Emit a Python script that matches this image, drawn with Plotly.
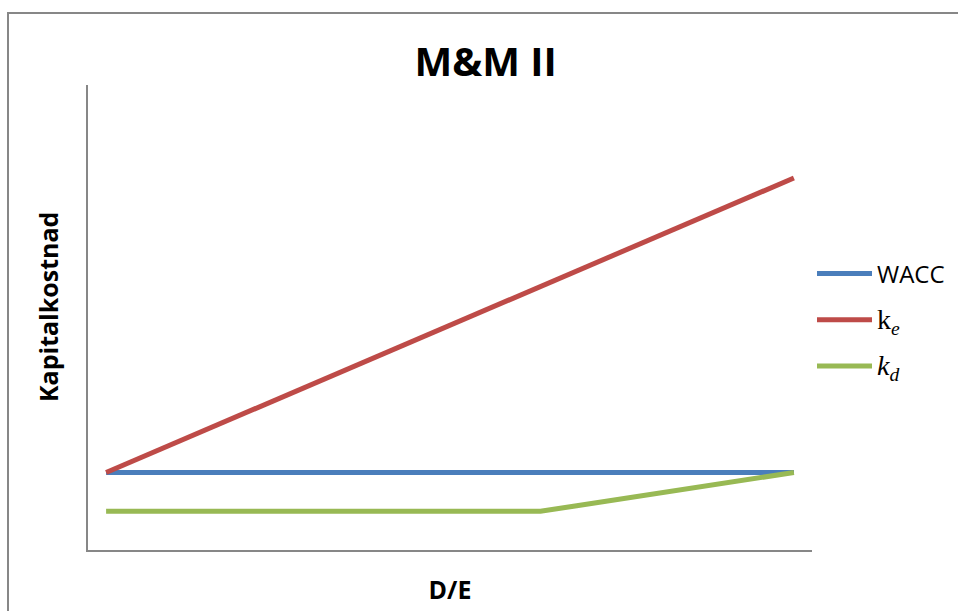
import plotly.graph_objects as go

# D/E steps along the horizontal axis (axis labels are hidden)
de_steps = list(range(20))

# Cost of capital series
wacc = [0.10] * 20
ke = [0.10, 0.12, 0.14, 0.16, 0.18, 0.20, 0.22, 0.24, 0.26, 0.28,
      0.30, 0.32, 0.34, 0.36, 0.38, 0.40, 0.42, 0.44, 0.46, 0.48]
kd = [0.05, 0.05, 0.05, 0.05, 0.05, 0.05, 0.05, 0.05, 0.05, 0.05,
      0.05, 0.05, 0.05, 0.057, 0.064, 0.071, 0.079, 0.086, 0.093, 0.10]

series_names = [
    "WACC",
    "<span style=\"font-family:Liberation Serif;font-size:28px\">k<sub><i>e</i></sub></span>",
    "<span style=\"font-family:Liberation Serif;font-size:28px\"><i>k</i><sub><i>d</i></sub></span>",
]
series_values = [wacc, ke, kd]
series_colors = ["#4A7EBB", "#BE4B48", "#98B954"]

fig = go.Figure()
for i, (name, vals, col) in enumerate(zip(series_names, series_values, series_colors)):
    fig.add_trace(go.Scatter(
        x=de_steps, y=vals, mode="lines", name=name,
        line=dict(color=col, width=5),
        legendgroup=f"g{i}",
    ))

axis_gray = "#878787"

# plot-area pixel box used to place the frame and labels
L, R, T, B = 88, 812, 85, 550
PW, PH = R - L, B - T


def px_x(x):
    return (x - L) / PW


def px_y(y):
    return (B - y) / PH


fig.update_layout(
    width=958, height=611,
    margin=dict(l=L, r=958 - R, t=T, b=611 - B, autoexpand=False),
    paper_bgcolor="white", plot_bgcolor="white",
    hovermode=False,
    font=dict(family="Open Sans", color="black"),
    title=dict(
        text="<b>M&M II</b>",
        font=dict(family="Open Sans", size=40, color="black"),
        x=0.507, xref="container", xanchor="center",
        y=0.899, yref="container", yanchor="middle",
    ),
    xaxis=dict(
        range=[-0.5, 19.5], showgrid=False, zeroline=False,
        showticklabels=False, ticks="",
        showline=True, linecolor=axis_gray, linewidth=2,
        title=dict(text="<b>D/E</b>", font=dict(size=25), standoff=30),
    ),
    yaxis=dict(
        range=[0, 0.6], showgrid=False, zeroline=False,
        showticklabels=False, ticks="",
        showline=True, linecolor=axis_gray, linewidth=2,
    ),
    legend=dict(
        x=px_x(812), xanchor="left", y=px_y(320), yanchor="middle",
        font=dict(family="Open Sans", size=24, color="black"),
        tracegroupgap=12, itemwidth=55,
        bgcolor="rgba(0,0,0,0)",
    ),
    annotations=[
        dict(text="<b>Kapitalkostnad</b>", textangle=-90,
             xref="paper", yref="paper", x=px_x(48), y=px_y(307),
             xanchor="center", yanchor="middle", showarrow=False,
             font=dict(family="Open Sans", size=25, color="black")),
    ],
    shapes=[
        # chart-area frame: left edge and top edge
        dict(type="line", xref="paper", yref="paper",
             x0=px_x(8), x1=px_x(8), y0=px_y(640), y1=px_y(12),
             line=dict(color=axis_gray, width=2)),
        dict(type="line", xref="paper", yref="paper",
             x0=px_x(7), x1=px_x(970), y0=px_y(13), y1=px_y(13),
             line=dict(color=axis_gray, width=2)),
    ],
)

fig.write_html("out.html", config={"displayModeBar": False})
